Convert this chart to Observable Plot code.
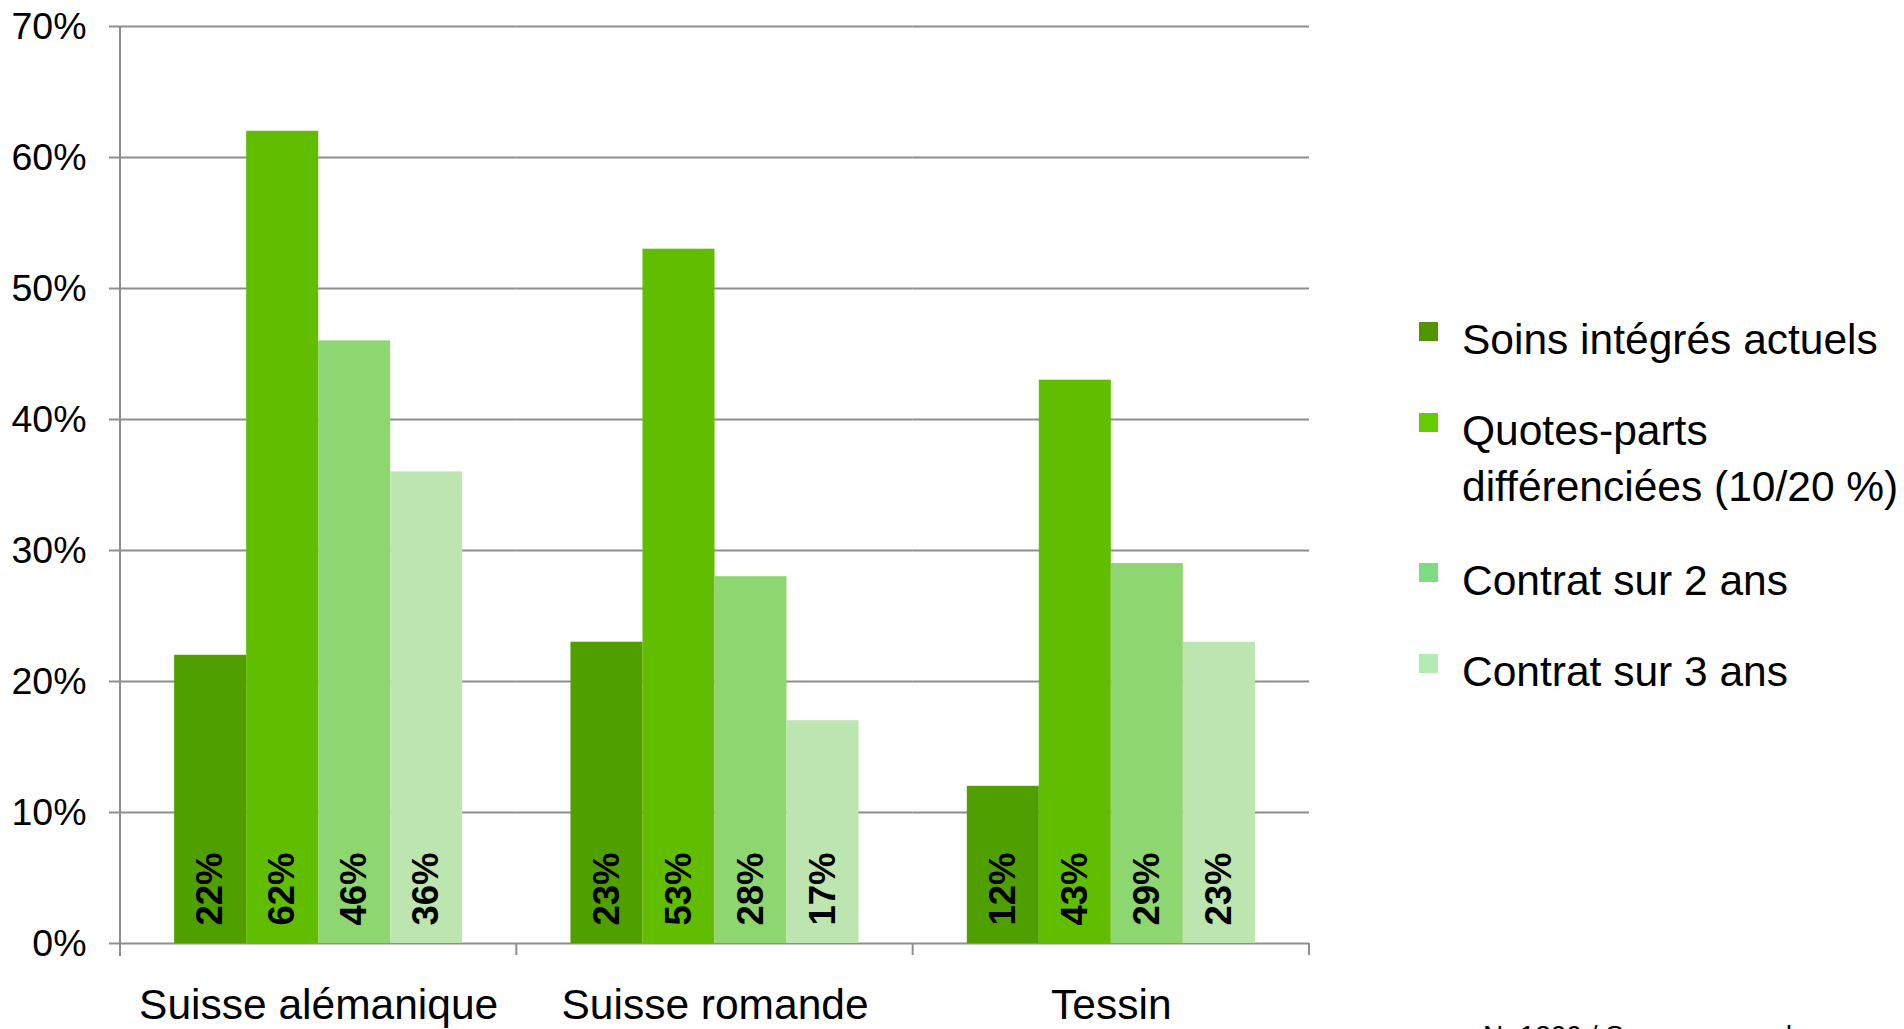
<!DOCTYPE html>
<html><head><meta charset="utf-8">
<script src="https://cdn.jsdelivr.net/npm/d3@7"></script>
<script src="https://cdn.jsdelivr.net/npm/@observablehq/plot@0.6"></script>
<style>
html,body{margin:0;padding:0;background:#fff;overflow:hidden;width:1904px;height:1029px;font-family:"Liberation Sans",Arial,sans-serif;}
#wrap{position:relative;width:1904px;height:1029px;}
#chart{position:absolute;left:0;top:0;}
#legend{position:absolute;left:1419px;top:312px;display:flex;flex-direction:column;}
.item{display:flex;align-items:flex-start;}
.sw{width:19px;height:19px;margin-top:10px;margin-right:24px;flex:none;}
.lab{font-size:42.5px;line-height:56px;width:445px;color:#000;}
#note{position:absolute;left:1483px;top:1022px;font-size:28px;line-height:28px;white-space:nowrap;color:#000;}
</style></head><body>
<div id="wrap"><div id="chart"></div><div id="legend"></div><div id="note"></div></div>
<script>
const regions = ["Suisse alémanique", "Suisse romande", "Tessin"];
const seriesNames = ["Soins intégrés actuels", "Quotes-parts différenciées (10/20 %)", "Contrat sur 2 ans", "Contrat sur 3 ans"];
const soinsIntegres = [0.22, 0.23, 0.12];
const quotesParts = [0.62, 0.53, 0.43];
const contrat2 = [0.46, 0.28, 0.29];
const contrat3 = [0.36, 0.17, 0.23];
const barColors = ["#4f9f00", "#61bd00", "#8ed66f", "#bce5b0"];
const legendColors = ["#4e9600", "#66cc00", "#80dc80", "#b3ecb3"];
const yTicks = [0, 0.1, 0.2, 0.3, 0.4, 0.5, 0.6, 0.7];
const noteText = "N=1200 / Sources : sondage";

const seriesValues = [soinsIntegres, quotesParts, contrat2, contrat3];
const data = [];
regions.forEach((r, i) => seriesNames.forEach((s, j) => data.push({region: r, series: s, value: seriesValues[j][i]})));

const pct = d3.format(".0%");
const font = '"Liberation Sans", Arial, sans-serif';
const gray = "#8e8e8e";

const chart = Plot.plot({
  width: 1320,
  height: 1029,
  marginLeft: 120,
  marginRight: 11,
  marginTop: 26,
  marginBottom: 86,
  style: {fontFamily: font, background: "transparent", overflow: "visible"},
  fx: {domain: regions, padding: 0, round: false, label: null},
  x: {domain: seriesNames, paddingInner: 0, paddingOuter: 0.752, round: false, axis: null},
  y: {domain: [0, 0.7], label: null},
  color: {domain: seriesNames, range: barColors},
  marks: [
    Plot.gridY(yTicks, {stroke: gray, strokeOpacity: 1, strokeWidth: 2}),
    Plot.axisY(yTicks, {tickFormat: pct, tickSize: 11, tickPadding: 23, stroke: gray, strokeWidth: 2, fontSize: 37.5, fill: "#000", label: null}),
    Plot.axisFx({anchor: "bottom", tickSize: 0, tickPadding: 45, fontSize: 42.5, fill: "#000", label: null}),
    Plot.barY(data, {fx: "region", x: "series", y: "value", fill: "series"}),
    Plot.text(data, {fx: "region", x: "series", y: 0, dy: -18, text: d => pct(d.value), rotate: -90, textAnchor: "start", fontWeight: "bold", fontSize: 36.5, fill: "#000"})
  ]
});

// axis line and category boundary ticks, positioned with the chart's own scales
const fxS = chart.scale("fx"), yS = chart.scale("y");
const svg = d3.select(chart.tagName.toLowerCase() === "svg" ? chart : chart.querySelector("svg"));
const y0 = yS.apply(0), yTop = yS.apply(yTicks[yTicks.length - 1]);
const xLeft = fxS.apply(regions[0]);
const g = svg.append("g").attr("stroke", gray).attr("stroke-width", 2);
g.append("line").attr("x1", xLeft).attr("x2", xLeft).attr("y1", yTop).attr("y2", y0 + 13);
regions.forEach(r => {
  const xr = fxS.apply(r) + fxS.step;
  g.append("line").attr("x1", xr).attr("x2", xr).attr("y1", y0).attr("y2", y0 + 12);
});

document.getElementById("chart").appendChild(chart);

const legendGaps = [0, 35, 38, 35];
const legend = d3.select("#legend");
seriesNames.forEach((s, j) => {
  const it = legend.append("div").attr("class", "item").style("margin-top", legendGaps[j] + "px");
  it.append("div").attr("class", "sw").style("background", legendColors[j]);
  it.append("div").attr("class", "lab").text(s);
});
document.getElementById("note").textContent = noteText;
</script>
</body></html>
